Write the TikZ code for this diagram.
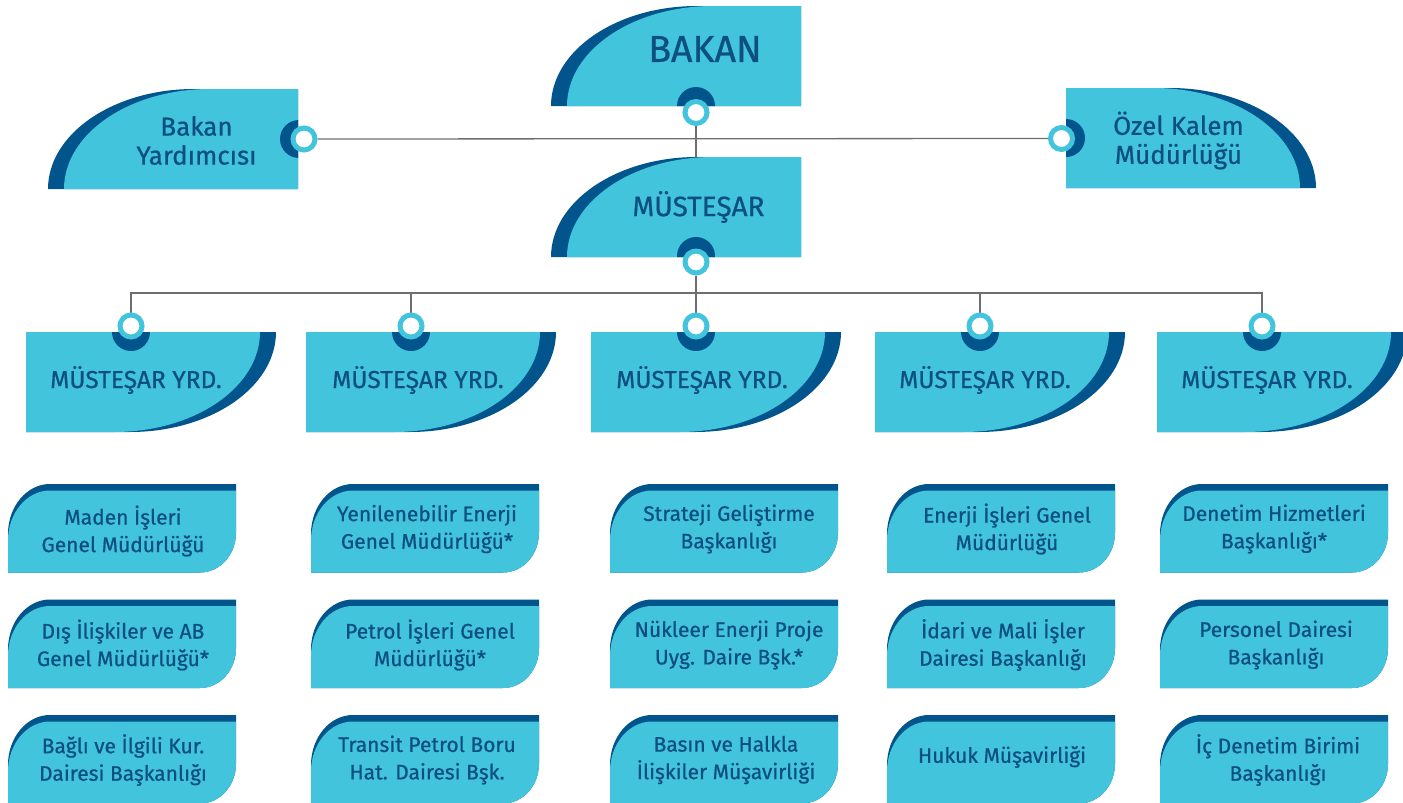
\documentclass[tikz,border=0pt]{standalone}
\usepackage{fontspec}
\setmainfont{Fira Sans}
\newfontfamily\medfont{Fira Sans}[FakeBold=0.7]
\pgfdeclarelayer{background}
\pgfsetlayers{background,main}
\definecolor{cy}{HTML}{42C4DD}
\definecolor{db}{HTML}{01548C}
\definecolor{tx}{HTML}{0E4F82}
\definecolor{ln}{HTML}{6E6E6E}
% big box, curve at top-left
\newcommand{\pA}[2]{(#1,#2+100) .. controls (#1,#2+44.8) and (#1+65.4,#2) .. (#1+146,#2) -- (#1+250,#2) -- (#1+250,#2+100) -- cycle}
% big box, curve at top-right
\newcommand{\pM}[2]{(#1+250,#2+100) .. controls (#1+250,#2+44.8) and (#1+184.6,#2) .. (#1+104,#2) -- (#1,#2) -- (#1,#2+100) -- cycle}
% big box, curve at bottom-right
\newcommand{\pB}[2]{(#1,#2) -- (#1+250,#2) .. controls (#1+250,#2+55.2) and (#1+184.6,#2+100) .. (#1+104,#2+100) -- (#1,#2+100) -- cycle}
% department box
\newcommand{\pD}[2]{(#1,#2+50) .. controls (#1,#2+22.4) and (#1+18.8,#2) .. (#1+42,#2) -- (#1+228,#2) -- (#1+228,#2+48.5) .. controls (#1+228,#2+70.6) and (#1+212,#2+88.5) .. (#1+192,#2+88.5) -- (#1,#2+88.5) -- cycle}
\newcommand{\shA}[4]{\fill[db] \pA{#1}{#2};
  \begin{scope}\clip \pA{#1}{#2}; \fill[cy] \pA{#1+16}{#2}; \fill[db] (#3,#4) circle[radius=19pt]; \end{scope}}
\newcommand{\shM}[4]{\fill[db] \pM{#1}{#2};
  \begin{scope}\clip \pM{#1}{#2}; \fill[cy] \pM{#1-16}{#2}; \fill[db] (#3,#4) circle[radius=19pt]; \end{scope}}
\newcommand{\shB}[4]{\fill[db] \pB{#1}{#2};
  \begin{scope}\clip \pB{#1}{#2}; \fill[cy] \pB{#1-16}{#2}; \fill[db] (#3,#4) circle[radius=19pt]; \end{scope}}
\newcommand{\shD}[2]{\fill[db] \pD{#1}{#2};
  \begin{scope}\clip \pD{#1}{#2}; \fill[cy] \pD{#1}{#2+6.5}; \end{scope}}
\tikzset{
  ring/.style={circle, draw=cy, line width=5pt, fill=white, inner sep=0pt, minimum size=22pt},
  conn/.style={draw=ln, line width=1.3pt},
  ttl/.style={text=tx, align=center, inner sep=0pt},
  tbakan/.style={ttl, font=\medfont\fontsize{37.5}{42}\selectfont},
  tmust/.style={ttl, font=\medfont\fontsize{28}{32}\selectfont},
  tside/.style={ttl, font=\medfont\fontsize{26}{29}\selectfont},
  tyrd/.style={ttl, font=\medfont\fontsize{24.5}{28}\selectfont},
  tdept/.style={ttl, font=\medfont\fontsize{21}{27.5}\selectfont}
}
\begin{document}
\begin{tikzpicture}[x=1pt,y=-1pt]
\useasboundingbox (0,0) rectangle (1403,803);
\clip (0,0) rectangle (1403,803);
% top level boxes
\shA{551}{6}{696}{106}
\shA{48}{89}{299}{139}
\shM{1066}{88}{1066}{138}
\shA{551}{157}{696}{256}
% YRD boxes
\foreach \x in {26,306,591,875,1157} {\shB{\x}{332}{\x+105}{332}}
% department boxes
\foreach \x in {8,311,610,887,1160} {\foreach \y in {484,599.5,715} {\shD{\x}{\y}}}
% rings
\node[ring] (rBakan) at (696,112.5) {};
\node[ring] (rBY) at (304,139) {};
\node[ring] (rOK) at (1061.5,138.5) {};
\node[ring] (rMust) at (696,262) {};
\node[ring] (rY1) at (131,326) {};
\node[ring] (rY2) at (411,326) {};
\node[ring] (rY3) at (696,326) {};
\node[ring] (rY4) at (980,326) {};
\node[ring] (rY5) at (1262,326) {};
\coordinate (mTop) at (696,157);
\coordinate (bus) at (696,293);
\begin{pgfonlayer}{background}
\path[conn] (rBY) -- (rOK);
\path[conn] (rBakan) -- (mTop);
\path[conn] (rMust) -- (rY3);
\path[conn] (rY1) |- (bus) -| (rY5);
\path[conn] (rY2) -- (rY2 |- bus);
\path[conn] (rY4) -- (rY4 |- bus);
\end{pgfonlayer}
% texts
\node[tbakan] (tBakan) at (705,49) {BAKAN};
\node[tside] (tBY) at (196.5,140.5) {Bakan\\Yardımcısı};
\node[tside] (tOK) at (1178.5,140.5) {Özel Kalem\\Müdürlüğü};
\node[tmust] (tMust) at (698.5,207) {MÜSTEŞAR};
\foreach \x [count=\i] in {136,418,702,985,1267} {\node[tyrd] (tY\i) at (\x,380) {MÜSTEŞAR YRD.};}
% row 1
\node[tdept] (d11) at (123,531) {Maden İşleri\\Genel Müdürlüğü};
\node[tdept] (d12) at (427,529) {Yenilenebilir Enerji\\Genel Müdürlüğü*};
\node[tdept] (d13) at (729,529) {Strateji Geliştirme\\Başkanlığı};
\node[tdept] (d14) at (1007,529) {Enerji İşleri Genel\\Müdürlüğü};
\node[tdept] (d15) at (1274,529) {Denetim Hizmetleri\\Başkanlığı*};
% row 2
\node[tdept] (d21) at (123,645) {Dış İlişkiler ve AB\\Genel Müdürlüğü*};
\node[tdept] (d22) at (430,645) {Petrol İşleri Genel\\Müdürlüğü*};
\node[tdept] (d23) at (729,645) {Nükleer Enerji Proje\\Uyg. Daire Bşk.*};
\node[tdept] (d24) at (1003,645) {İdari ve Mali İşler\\Dairesi Başkanlığı};
\node[tdept] (d25) at (1276,645) {Personel Dairesi\\Başkanlığı};
% row 3
\node[tdept] (d31) at (123,760) {Bağlı ve İlgili Kur.\\Dairesi Başkanlığı};
\node[tdept] (d32) at (427,760) {Transit Petrol Boru\\Hat. Dairesi Bşk.};
\node[tdept] (d33) at (726,760) {Basın ve Halkla\\İlişkiler Müşavirliği};
\node[tdept] (d34) at (1002,757) {Hukuk Müşavirliği};
\node[tdept] (d35) at (1278,760) {İç Denetim Birimi\\Başkanlığı};
\end{tikzpicture}
\end{document}
